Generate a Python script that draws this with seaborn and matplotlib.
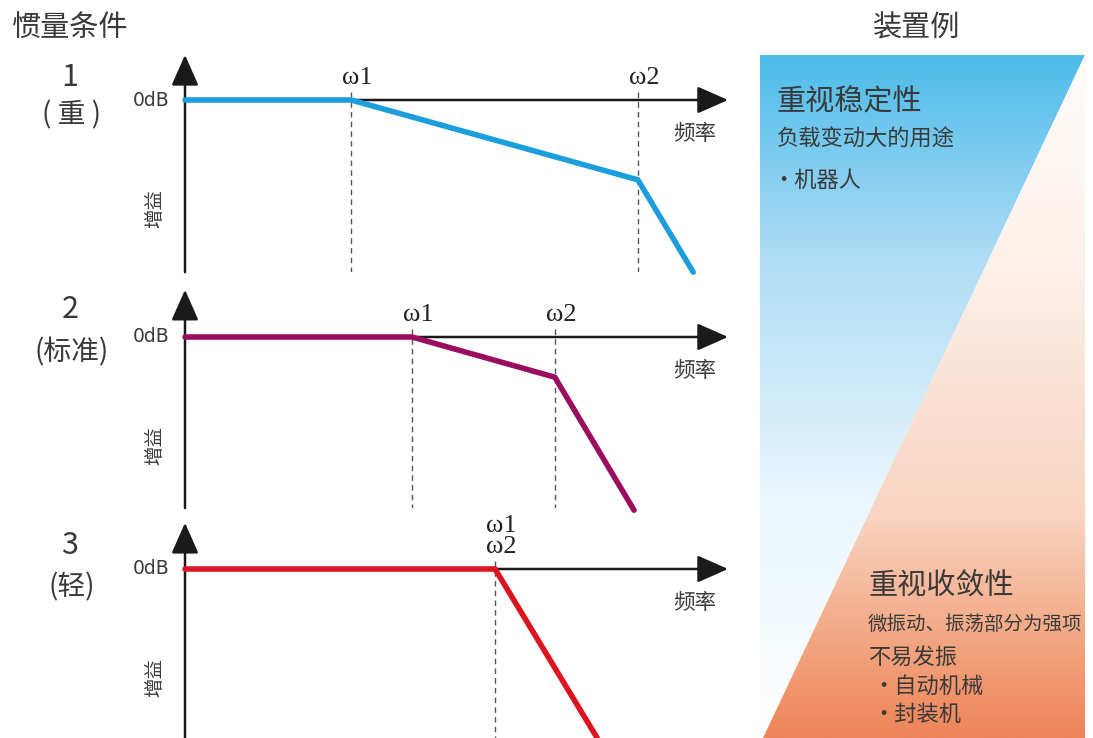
import numpy as np
import pandas as pd
import matplotlib
matplotlib.use('Agg')
import matplotlib.pyplot as plt
import seaborn as sns
from matplotlib.colors import LinearSegmentedColormap
from matplotlib.patches import Polygon

# figure size in pixels
W, H = 1093, 738

# corner-frequency plots (x = frequency, y = gain, arbitrary units)
freq_heavy = [0, 3.06, 8.34, 9.36]
gain_heavy = [0, 0, -1.47, -3.17]
freq_std = [0, 4.18, 6.81, 8.27]
gain_std = [0, 0, -0.74, -3.19]
freq_light = [0, 5.71, 7.59]
gain_light = [0, 0, -3.11]

corner_freqs = [[3.06, 8.34], [4.18, 6.81], [5.71]]
corner_labels = [['ω1', 'ω2'], ['ω1', 'ω2'], ['ω1\nω2']]

case_numbers = ['1', '2', '3']
case_names = ['( 重 )', '(标准)', '(轻)']
line_colors = ['#1a9fdc', '#9b0d5e', '#dd1420']

top_lines = ['重视稳定性', '负载变动大的用途', '·机器人']
bottom_lines = ['重视收敛性', '微振动、振荡部分为强项', '不易发振', '·自动机械', '·封装机']

sns.set_theme(style='white')
plt.rcParams['font.family'] = ['Noto Sans CJK SC', 'DejaVu Sans']
txt_color = '#3a3a3a'

fig = plt.figure(figsize=(W / 100, H / 100), dpi=100)
fig.patch.set_facecolor('white')

# background axes in pixel coords for the gradient panel on the right
bg = fig.add_axes([0, 0, 1, 1], zorder=0)
bg.set_xlim(0, W)
bg.set_ylim(H, 0)
bg.axis('off')

blue_cmap = LinearSegmentedColormap.from_list(
    'blue', [(0, '#4cbbea'), (0.3, '#b0ddf5'), (0.65, '#e9f6fc'), (1, '#ffffff')])
orange_cmap = LinearSegmentedColormap.from_list(
    'orange', [(0, '#fffcfa'), (0.3, '#fdf1ea'), (0.68, '#f8d3c0'), (0.85, '#f3a884'), (1, '#ee8458')])
grad = np.linspace(0, 1, 256).reshape(-1, 1)

blue_poly = Polygon([(760, 55), (1085, 55), (763, 738), (760, 738)], closed=True,
                    transform=bg.transData, facecolor='none', edgecolor='none')
orange_poly = Polygon([(1085, 55), (1085, 738), (763, 738)], closed=True,
                      transform=bg.transData, facecolor='none', edgecolor='none')
bg.add_patch(blue_poly)
bg.add_patch(orange_poly)
im1 = bg.imshow(grad, cmap=blue_cmap, extent=[760, 1085, 738, 55], aspect='auto', origin='upper')
im1.set_clip_path(blue_poly)
im2 = bg.imshow(grad, cmap=orange_cmap, extent=[760, 1085, 738, 55], aspect='auto', origin='upper')
im2.set_clip_path(orange_poly)
bg.set_xlim(0, W)
bg.set_ylim(H, 0)

# titles
bg.text(12, 28, '惯量条件', fontsize=21, color=txt_color, va='center', ha='left')
bg.text(917, 28, '装置例', fontsize=21, color=txt_color, va='center', ha='center')

# right side texts
bg.text(777, 102, top_lines[0], fontsize=21, color=txt_color, va='center')
bg.text(777, 139, top_lines[1], fontsize=16, color=txt_color, va='center')
bg.text(772, 180, top_lines[2], fontsize=16, color=txt_color, va='center')
bg.text(868, 587, bottom_lines[0], fontsize=21, color=txt_color, va='center')
bg.text(868, 624, bottom_lines[1], fontsize=14, color=txt_color, va='center')
bg.text(868, 657, bottom_lines[2], fontsize=16, color=txt_color, va='center')
bg.text(872, 686, bottom_lines[3], fontsize=16, color=txt_color, va='center')
bg.text(872, 714, bottom_lines[4], fontsize=16, color=txt_color, va='center')

# left case labels
num_y = [77, 310, 545]
name_y = [115, 352, 587]
for i in range(3):
    bg.text(70, num_y[i], case_numbers[i], fontsize=22, color=txt_color, ha='center', va='center')
    bg.text(72, name_y[i], case_names[i], fontsize=20, color=txt_color, ha='center', va='center')

# panels
scale = 54.3  # px per unit
left_px = 185
xmax = 10.2
zero_px = [100, 337, 569]
ylims = [(-3.17, 0.83), (-3.15, 0.87), (-3.11, 0.85)]
freqs = [freq_heavy, freq_std, freq_light]
gains = [gain_heavy, gain_std, gain_light]

for i in range(3):
    lo, hi = ylims[i]
    top_px = zero_px[i] - hi * scale
    bot_px = zero_px[i] - lo * scale
    ax = fig.add_axes([left_px / W, 1 - bot_px / H, xmax * scale / W, (bot_px - top_px) / H], zorder=2)
    ax.set_facecolor('none')
    ax.set_xlim(0, xmax)
    ax.set_ylim(lo, hi)
    ax.axis('off')

    # axes arrows
    arrow = dict(arrowstyle='-|>,head_length=0.95,head_width=0.42', color='#1a1a1a', lw=1.8,
                 mutation_scale=20, shrinkA=0, shrinkB=0)
    ax.annotate('', xy=(0, hi), xytext=(0, lo), arrowprops=arrow, annotation_clip=False)
    ax.annotate('', xy=(10.0, 0), xytext=(0, 0), arrowprops=arrow, annotation_clip=False)

    # dashed corner markers
    for f, lab in zip(corner_freqs[i], corner_labels[i]):
        ax.plot([f, f], [0.15, lo], color='#555555', lw=1, ls=(0, (4, 3)), zorder=1)
        ax.text(f - 0.16, 0.2, lab, fontsize=19, color='#222222', ha='left', va='bottom',
                family=['Liberation Serif', 'DejaVu Serif'], linespacing=0.95)

    df = pd.DataFrame({'freq': freqs[i], 'gain': gains[i]})
    sns.lineplot(data=df, x='freq', y='gain', ax=ax, color=line_colors[i], lw=4,
                 estimator=None, sort=False, zorder=5, clip_on=False)
    ax.axis('off')

    ax.text(-0.28, 0, '0dB', fontsize=13.5, color=txt_color, ha='right', va='center',
            family=['DejaVu Sans'])
    ax.text(9.39, -0.63, '频率', fontsize=15.5, color=txt_color, ha='center', va='center')
    ax.text(-0.55, -2.0, '增益', fontsize=14, color=txt_color, ha='center', va='center', rotation=90)

fig.savefig('out.png', dpi=100, facecolor='white')
